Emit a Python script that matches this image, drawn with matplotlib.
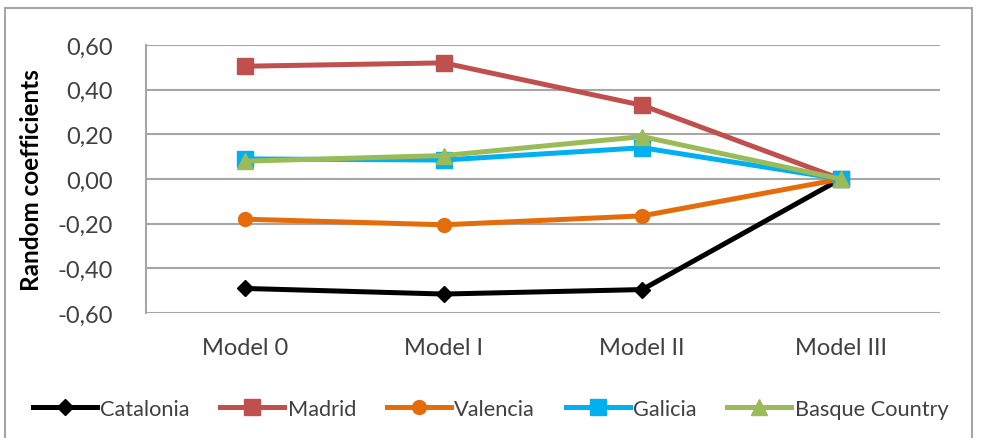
import matplotlib
matplotlib.use("Agg")
import matplotlib.pyplot as plt
from matplotlib.patches import Rectangle
from matplotlib.ticker import FuncFormatter

models = ["Model 0", "Model I", "Model II", "Model III"]
catalonia = [-0.49, -0.515, -0.495, 0.0]
madrid = [0.505, 0.52, 0.33, 0.0]
valencia = [-0.18, -0.205, -0.165, 0.0]
galicia = [0.09, 0.085, 0.14, 0.0]
basque = [0.08, 0.105, 0.19, 0.0]

series = [
    ("Catalonia", catalonia, "#000000", "D", 8),
    ("Madrid", madrid, "#C0504D", "s", 11),
    ("Valencia", valencia, "#E46C0A", "o", 10),
    ("Galicia", galicia, "#00B0F0", "s", 11),
    ("Basque Country", basque, "#9BBB59", "^", 11),
]

plt.rcParams["font.family"] = ["Lato", "DejaVu Sans"]

fig = plt.figure(figsize=(9.81, 4.39), dpi=100)
ax = fig.add_axes([0.1488, 0.2847, 0.8094, 0.6105])

x = range(len(models))
for name, vals, color, marker, ms in series:
    ax.plot(x, vals, color=color, lw=3.6, marker=marker, ms=ms, label=name,
            solid_joinstyle="round", zorder=3)

ax.set_xlim(-0.5, 3.5)
ax.set_ylim(-0.6, 0.6)
ax.set_yticks([-0.6, -0.4, -0.2, 0.0, 0.2, 0.4, 0.6])
ax.yaxis.set_major_formatter(FuncFormatter(lambda v, p: f"{v:.2f}".replace(".", ",").replace("-0,00", "0,00")))
ax.set_xticks(list(x))
ax.set_xticklabels(models)
ax.tick_params(length=0, labelsize=17, colors="#404040")
ax.tick_params(axis="x", pad=17)
ax.tick_params(axis="y", pad=24)
ax.grid(axis="y", color="#A6A6A6", lw=1.5, zorder=0)
for s in ["top", "right", "bottom"]:
    ax.spines[s].set_visible(False)
ax.spines["left"].set_color("#A6A6A6")
ax.spines["left"].set_linewidth(1.5)
ax.set_ylabel("Random coefficients", fontsize=17.5, fontweight="bold", labelpad=10)

fig.legend(loc="center", bbox_to_anchor=(0.5, 0.066), ncol=5, frameon=False,
           fontsize=15.7, handlelength=2.95, handletextpad=0.15, columnspacing=1.4,
           labelcolor="#404040")

fig.add_artist(Rectangle((5 / 981, -0.01), 967 / 981, 430 / 439 + 0.01, transform=fig.transFigure,
                         fill=False, edgecolor="#A6A6A6", lw=1.5))

fig.savefig("out.png", dpi=100)
